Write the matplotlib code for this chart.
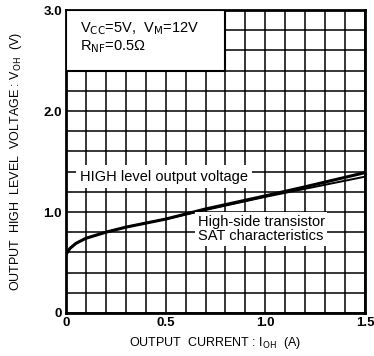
import matplotlib.pyplot as plt
import numpy as np
from matplotlib.patches import Rectangle

plt.rcParams['font.family'] = ['Liberation Sans', 'DejaVu Sans']

# curve data
current = [0, 0.02, 0.05, 0.1, 0.15, 0.2, 0.3, 0.5, 0.7, 1.0, 1.2, 1.5]
v_high = [0.58, 0.64, 0.69, 0.74, 0.77, 0.80, 0.85, 0.93, 1.03, 1.16, 1.25, 1.39]
v_sat = [0.58, 0.64, 0.69, 0.74, 0.77, 0.80, 0.85, 0.93, 1.02, 1.15, 1.23, 1.35]

x_ticks = [0, 0.5, 1.0, 1.5]
x_labels = ['0', '0.5', '1.0', '1.5']
y_ticks = [0, 1.0, 2.0, 3.0]
y_labels = ['0', '1.0', '2.0', '3.0']

fig = plt.figure(figsize=(3.74, 3.56), dpi=100)
ax = fig.add_axes([0.1765, 0.1208, 0.7995, 0.851])

ax.set_xlim(0, 1.5)
ax.set_ylim(0, 3.0)
ax.set_xticks(x_ticks)
ax.set_xticklabels(x_labels, fontsize=9.5, fontweight='bold')
ax.set_yticks(y_ticks)
ax.set_yticklabels(y_labels, fontsize=9.5, fontweight='bold')
ax.set_xticks(np.arange(0, 1.51, 0.1), minor=True)
ax.set_yticks(np.arange(0, 3.01, 0.2), minor=True)
ax.tick_params(which='both', length=0, pad=3)
ax.grid(True, which='both', color='black', linewidth=1.1)
ax.set_axisbelow(True)
for s in ax.spines.values():
    s.set_linewidth(2)

ax.plot(current, v_sat, color='black', lw=1.4, zorder=4)
ax.plot(current, v_high, color='black', lw=2.2, zorder=4)

# condition box
ax.add_patch(Rectangle((0, 2.4), 0.8, 0.6, facecolor='white', edgecolor='black',
                       lw=1.5, zorder=3))
ax.text(0.07, 2.78, 'V$_{\\mathrm{CC}}$=5V,  V$_{\\mathrm{M}}$=12V', fontsize=10.5, zorder=5)
ax.text(0.07, 2.6, 'R$_{\\mathrm{NF}}$=0.5\u03a9', fontsize=10.5, zorder=5)

ax.text(0.07, 1.35, 'HIGH level output voltage', fontsize=10.5, va='center', zorder=5,
        bbox=dict(facecolor='white', edgecolor='none', pad=3))
ax.text(0.66, 0.83, 'High-side transistor\nSAT characteristics', fontsize=10.5,
        va='center', linespacing=1.05, zorder=5,
        bbox=dict(facecolor='white', edgecolor='none', pad=2))

ax.set_xlabel('OUTPUT  CURRENT : I$_{\\mathrm{OH}}$  (A)', fontsize=9, labelpad=4)
ax.set_ylabel('OUTPUT  HIGH  LEVEL  VOLTAGE : V$_{\\mathrm{OH}}$  (V)', fontsize=9, labelpad=14)

fig.savefig('out.png', dpi=100, facecolor='white')
